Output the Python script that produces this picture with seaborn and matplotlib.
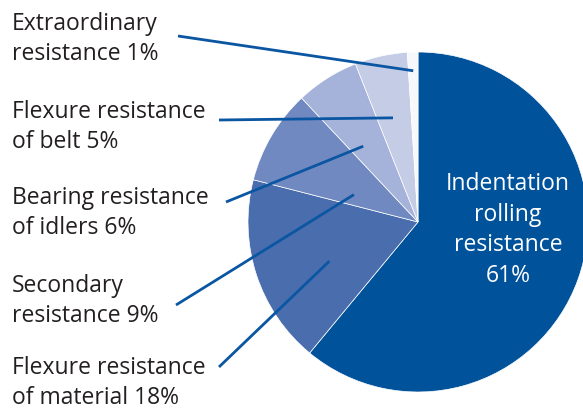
import numpy as np
import matplotlib
matplotlib.use("Agg")
import matplotlib.pyplot as plt
import seaborn as sns

# shares of belt conveyor resistance, clockwise from 12 o'clock
labels = ["Indentation\nrolling\nresistance\n61%",
          "Flexure resistance\nof material 18%",
          "Secondary\nresistance 9%",
          "Bearing resistance\nof idlers 6%",
          "Flexure resistance\nof belt 5%",
          "Extraordinary\nresistance 1%"]
shares = [61, 18, 9, 6, 5, 1]
colors = ["#00529b", "#4a6dae", "#7189c1", "#a5b2d9", "#c5cce6", "#f7f8fc"]

sns.set_theme(style="white")
plt.rcParams["font.family"] = ["Open Sans", "DejaVu Sans"]

fig = plt.figure(figsize=(5.83, 4.10), dpi=100)
ax = fig.add_axes([0, 0, 1, 1])

cx, cy, R = 418, 410 - 223, 170
wedges, _ = ax.pie(shares, colors=colors, startangle=90, counterclock=False,
                   center=(cx, cy), radius=R,
                   wedgeprops=dict(edgecolor="white", linewidth=0.5))
ax.set_xlim(0, 583)
ax.set_ylim(0, 410)
ax.axis("off")

line_col = "#0a56a2"
txt_col = "#231f20"
fs = 16.5

# big slice label inside
ax.text(508, 410 - 230, labels[0], color="white", fontsize=fs,
        ha="center", va="center", linespacing=1.36)

# outside labels: (text y centre, line start x, line start y, angle frac, radius frac)
label_pos = {1: (383, 219, 368, 0.59, 0.57),
             2: (301, 176, 306, 0.73, 0.41),
             3: (213, 226, 203, 0.66, 0.55),
             4: (127, 219, 121, 0.55, 0.63),
             5: (39, 178, 37, 0.5, 0.89)}
for i, (ty, lx, ly, tf, rf) in label_pos.items():
    w = wedges[i]
    ang = np.deg2rad(w.theta1 + tf * (w.theta2 - w.theta1))
    px = cx + rf * R * np.cos(ang)
    py = cy + rf * R * np.sin(ang)
    ax.plot([lx, px], [410 - ly, py], color=line_col, lw=2, solid_capstyle="butt")
    ax.text(12, 410 - ty, labels[i], color=txt_col, fontsize=fs,
            ha="left", va="center", linespacing=1.36)

fig.savefig("out.png", dpi=100)
